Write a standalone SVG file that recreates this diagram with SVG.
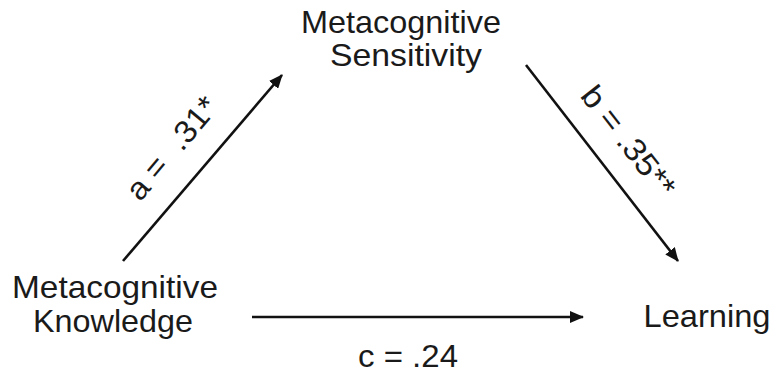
<svg xmlns="http://www.w3.org/2000/svg" width="776" height="377" viewBox="0 0 776 377">
<style>
.t{font-family:"Liberation Sans",Arial,sans-serif;font-size:31.5px;fill:#1a1a1a;text-anchor:middle}
.e{stroke:#111;stroke-width:2.6;fill:none;marker-end:url(#ah)}
</style>
<defs>
<marker id="ah" viewBox="0 0 14 12" refX="13" refY="6" markerWidth="14" markerHeight="12" markerUnits="userSpaceOnUse" orient="auto">
<path d="M0,0 L14,6 L0,12 Z" fill="#111"/>
</marker>
</defs>
<rect width="776" height="377" fill="#fff"/>
<g id="connectors">
<line class="e" x1="123" y1="261" x2="282" y2="75"/>
<line class="e" x1="526" y1="65" x2="678" y2="261"/>
<line class="e" x1="252" y1="317" x2="583" y2="317"/>
<text class="t" x="180" y="155" transform="rotate(-50 180 155)" textLength="124" lengthAdjust="spacingAndGlyphs" xml:space="preserve">a =  .31*</text>
<text class="t" x="620" y="148" transform="rotate(52 620 148)" textLength="132" lengthAdjust="spacingAndGlyphs">b = .35**</text>
<text class="t" x="408" y="367" textLength="100" lengthAdjust="spacingAndGlyphs">c = .24</text>
</g>
<g id="knowledge">
<text class="t" x="115" y="298" textLength="206" lengthAdjust="spacingAndGlyphs">Metacognitive</text>
<text class="t" x="113" y="332" textLength="160" lengthAdjust="spacingAndGlyphs">Knowledge</text>
</g>
<g id="sensitivity">
<text class="t" x="401" y="33" textLength="200" lengthAdjust="spacingAndGlyphs">Metacognitive</text>
<text class="t" x="406" y="66" textLength="152" lengthAdjust="spacingAndGlyphs">Sensitivity</text>
</g>
<g id="learning">
<text class="t" x="707" y="327" textLength="127" lengthAdjust="spacingAndGlyphs">Learning</text>
</g>
</svg>
